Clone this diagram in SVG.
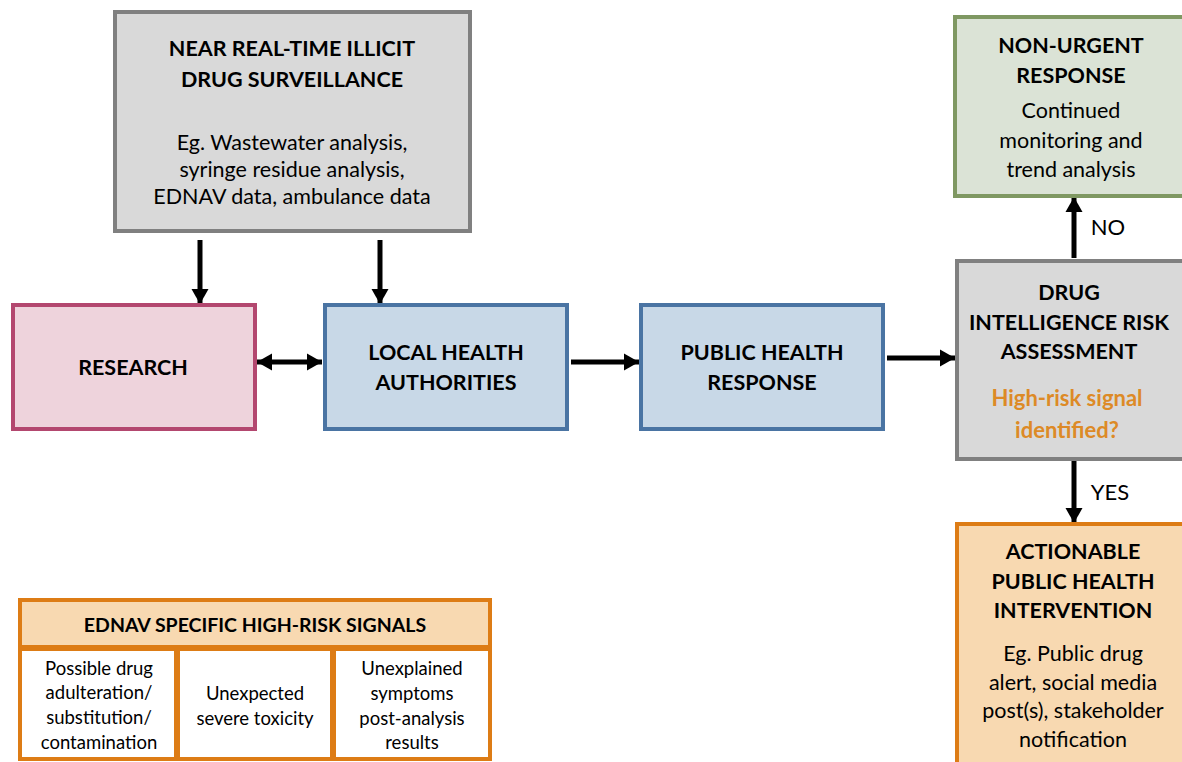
<svg xmlns="http://www.w3.org/2000/svg" width="1182" height="762" viewBox="0 0 1182 762">
<defs>
<style>
text{font-family:Lato,"Open Sans","Liberation Sans",sans-serif;fill:#000;text-anchor:middle;dominant-baseline:central}
.b{font-weight:bold;font-size:21.5px}
.r{font-size:21.5px}
.o{fill:#dd8a26;font-weight:bold;font-size:22px}
.s{font-size:18.5px}
.hb{font-weight:bold;font-size:19.5px}
.lab{font-size:22px}
.grey{fill:#d9d9d9;stroke:#808080;stroke-width:4}
.blue{fill:#c8d8e7;stroke:#4a74a3;stroke-width:4}
.pink{fill:#eed3dc;stroke:#b3476f;stroke-width:4}
.green{fill:#dbe3d6;stroke:#7f9862;stroke-width:4}
.orange{fill:#f8d9b1;stroke:#dd7c15;stroke-width:4}
.cell{fill:#fff;stroke:#dd7c15;stroke-width:4}
.ln{stroke:#000;stroke-width:5;fill:none}
</style>
<marker id="ah" markerWidth="3.2" markerHeight="4" refX="3" refY="2" orient="auto" markerUnits="strokeWidth"><path d="M0,0.3 L3,2 L0,3.7 Z" fill="#000"/></marker>
<marker id="as" markerWidth="3.2" markerHeight="4" refX="0" refY="2" orient="auto" markerUnits="strokeWidth"><path d="M3,0.3 L0,2 L3,3.7 Z" fill="#000"/></marker>
</defs>
<g id="connectors">
<line class="ln" x1="200" y1="240" x2="200" y2="304" marker-end="url(#ah)"/>
<line class="ln" x1="380" y1="240" x2="380" y2="304" marker-end="url(#ah)"/>
<line class="ln" x1="257" y1="362" x2="322" y2="362" marker-start="url(#as)" marker-end="url(#ah)"/>
<line class="ln" x1="571" y1="362" x2="639" y2="362" marker-end="url(#ah)"/>
<line class="ln" x1="887" y1="358" x2="955" y2="358" marker-end="url(#ah)"/>
<line class="ln" x1="1074" y1="258" x2="1074" y2="197" marker-end="url(#ah)"/>
<line class="ln" x1="1074" y1="461" x2="1074" y2="523" marker-end="url(#ah)"/>
<text class="lab" x="1108" y="226">NO</text>
<text class="lab" x="1110" y="491">YES</text>
</g>
<g id="surveillance">
<rect class="grey" x="115" y="12" width="355" height="219"/>
<text class="b" x="292" y="48">NEAR REAL-TIME ILLICIT</text>
<text class="b" x="292" y="79">DRUG SURVEILLANCE</text>
<text class="r" x="292" y="142">Eg. Wastewater analysis,</text>
<text class="r" x="292" y="169">syringe residue analysis,</text>
<text class="r" x="292" y="196">EDNAV data, ambulance data</text>
</g>
<g id="research">
<rect class="pink" x="13" y="305" width="242" height="124"/>
<text class="b" x="133" y="367">RESEARCH</text>
</g>
<g id="local">
<rect class="blue" x="325" y="305" width="242" height="124"/>
<text class="b" x="446" y="352">LOCAL HEALTH</text>
<text class="b" x="446" y="382">AUTHORITIES</text>
</g>
<g id="public">
<rect class="blue" x="641" y="305" width="242" height="124"/>
<text class="b" x="762" y="352">PUBLIC HEALTH</text>
<text class="b" x="762" y="382">RESPONSE</text>
</g>
<g id="nonurgent">
<rect class="green" x="955" y="17" width="232" height="179"/>
<text class="b" x="1071" y="45">NON-URGENT</text>
<text class="b" x="1071" y="75">RESPONSE</text>
<text class="r" x="1071" y="110">Continued</text>
<text class="r" x="1071" y="140">monitoring and</text>
<text class="r" x="1071" y="169">trend analysis</text>
</g>
<g id="risk">
<rect class="grey" x="957" y="261" width="232" height="198"/>
<text class="b" x="1069" y="292">DRUG</text>
<text class="b" x="1069" y="322">INTELLIGENCE RISK</text>
<text class="b" x="1069" y="351">ASSESSMENT</text>
<text class="o" x="1067" y="397">High-risk signal</text>
<text class="o" x="1067" y="429">identified?</text>
</g>
<g id="actionable">
<rect class="orange" x="957" y="524" width="232" height="240"/>
<text class="b" x="1073" y="551">ACTIONABLE</text>
<text class="b" x="1073" y="581">PUBLIC HEALTH</text>
<text class="b" x="1073" y="610">INTERVENTION</text>
<text class="r" x="1073" y="653">Eg. Public drug</text>
<text class="r" x="1073" y="682">alert, social media</text>
<text class="r" x="1073" y="710">post(s), stakeholder</text>
<text class="r" x="1073" y="739">notification</text>
</g>
<g id="ednav">
<rect class="orange" x="20" y="600" width="470" height="47"/>
<text class="hb" x="255" y="624">EDNAV SPECIFIC HIGH-RISK SIGNALS</text>
<rect class="cell" x="20" y="649" width="156" height="110"/>
<rect class="cell" x="178" y="649" width="154" height="110"/>
<rect class="cell" x="334" y="649" width="156" height="110"/>
<text class="s" x="99" y="668">Possible drug</text>
<text class="s" x="99" y="692">adulteration/</text>
<text class="s" x="99" y="717">substitution/</text>
<text class="s" x="99" y="742">contamination</text>
<text class="s" x="255" y="693">Unexpected</text>
<text class="s" x="255" y="718">severe toxicity</text>
<text class="s" x="412" y="668">Unexplained</text>
<text class="s" x="412" y="693">symptoms</text>
<text class="s" x="412" y="718">post-analysis</text>
<text class="s" x="412" y="742">results</text>
</g>
</svg>
